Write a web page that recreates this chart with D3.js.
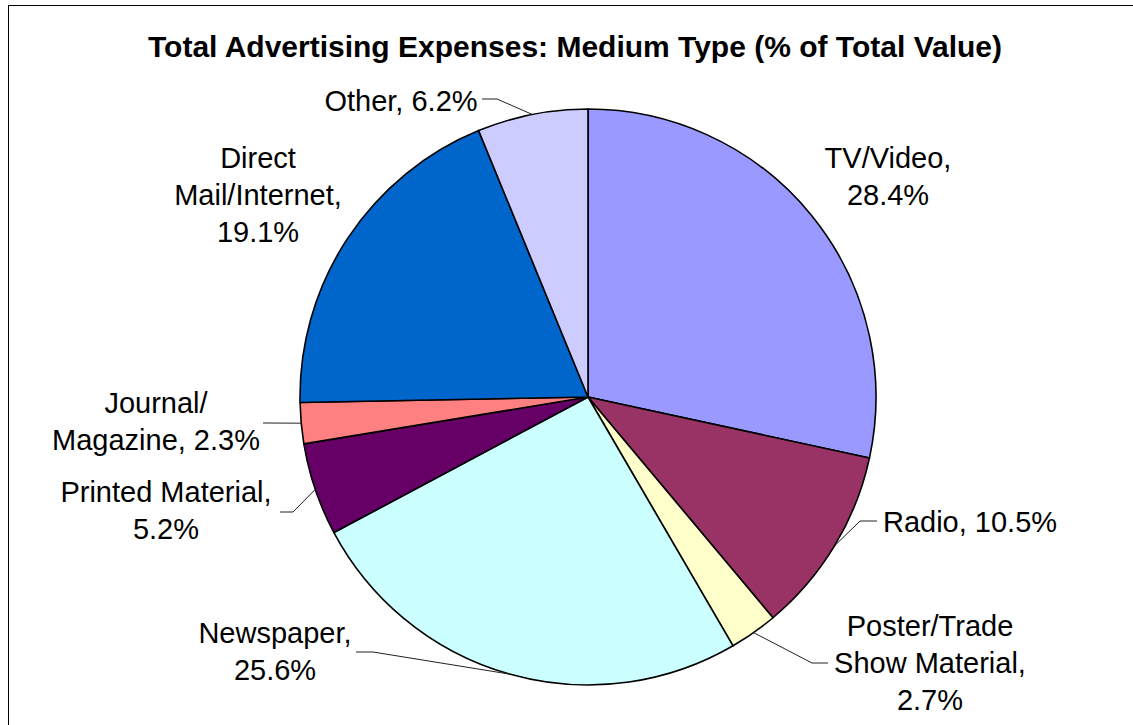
<!DOCTYPE html>
<html>
<head>
<meta charset="utf-8">
<script src="https://cdn.jsdelivr.net/npm/d3@7"></script>
<style>
  html, body { margin: 0; padding: 0; background: #fff; }
  svg { display: block; }
  text { font-family: "Liberation Sans", Arial, sans-serif; fill: #000; }
</style>
</head>
<body>
<svg id="chart" width="1133" height="725"></svg>
<script>
// Advertising spend by medium, percent of total value (clockwise from 12 o'clock)
const categories = [
  "TV/Video", "Radio", "Poster/Trade Show Material", "Newspaper",
  "Printed Material", "Journal/Magazine", "Direct Mail/Internet", "Other"
];
const values = [28.4, 10.5, 2.7, 25.6, 5.2, 2.3, 19.1, 6.2];
const colors = ["#9999FF", "#993366", "#FFFFCC", "#CCFFFF", "#660066", "#FF8080", "#0066CC", "#CCCCFF"];

// How each category name wraps in its data label (the value line is appended)
const nameLines = [
  ["TV/Video,"],
  ["Radio,"],
  ["Poster/Trade", "Show Material,"],
  ["Newspaper,"],
  ["Printed Material,"],
  ["Journal/", "Magazine,"],
  ["Direct", "Mail/Internet,"],
  ["Other,"]
];
// whether the value stays on the last name line
const valueInline = [false, true, false, false, false, true, false, true];

const title = "Total Advertising Expenses: Medium Type (% of Total Value)";

// ---- layout ----
const W = 1133, H = 725;
const cx = 588, cy = 397, R = 288;
const lineGap = 37;

// label placement: centre x, first baseline y, and leader line start/elbow (null = no leader)
const labelLayout = [
  { x: 888, y: 168, leader: null },
  { x: 970, y: 532, leader: [[877, 521], [860, 521]] },
  { x: 930, y: 636, leader: [[828, 663], [812, 663]] },
  { x: 275, y: 643, leader: [[356, 652], [373, 652]] },
  { x: 166, y: 502, leader: [[280, 512], [293, 512]] },
  { x: 156, y: 413, leader: [[263, 423], [268, 423]] },
  { x: 258, y: 168, leader: null },
  { x: 401, y: 111, leader: [[482, 99], [497, 99]] }
];

const svg = d3.select("#chart");

// outer chart-area frame (runs past the right and bottom edges)
svg.append("rect")
  .attr("x", 8.5).attr("y", 5.5)
  .attr("width", W + 20).attr("height", H + 20)
  .attr("fill", "#fff")
  .attr("stroke", "#000")
  .attr("stroke-width", 1);

svg.append("text")
  .attr("x", 575).attr("y", 57)
  .attr("text-anchor", "middle")
  .style("font-weight", "bold")
  .style("font-size", "30px")
  .text(title);

const pie = d3.pie().value(d => d).sort(null);
const arcs = pie(values);
const arc = d3.arc().innerRadius(0).outerRadius(R);

const g = svg.append("g").attr("transform", `translate(${cx},${cy})`);

g.selectAll("path.slice")
  .data(arcs)
  .join("path")
  .attr("class", "slice")
  .attr("d", arc)
  .attr("fill", (d, i) => colors[i])
  .attr("stroke", "#000")
  .attr("stroke-width", 1.6)
  .attr("stroke-linejoin", "round");

// leader lines end on the rim at each slice's mid angle
const rimPoint = d => {
  const a = (d.startAngle + d.endAngle) / 2;
  return [cx + R * Math.sin(a), cy - R * Math.cos(a)];
};

const line = d3.line();
svg.selectAll("path.leader")
  .data(arcs.filter((d, i) => labelLayout[i].leader))
  .join("path")
  .attr("class", "leader")
  .attr("d", d => line([...labelLayout[d.index].leader, rimPoint(d)]))
  .attr("fill", "none")
  .attr("stroke", "#222")
  .attr("stroke-width", 1);

// data labels
const fmt = d3.format(".1f");
arcs.forEach((d, i) => {
  const lines = nameLines[i].slice();
  const pct = fmt(values[i]) + "%";
  if (valueInline[i]) lines[lines.length - 1] += " " + pct;
  else lines.push(pct);
  const t = svg.append("text")
    .attr("text-anchor", "middle")
    .style("font-size", "29px");
  lines.forEach((s, k) => {
    t.append("tspan")
      .attr("x", labelLayout[i].x)
      .attr("y", labelLayout[i].y + k * lineGap)
      .text(s);
  });
});
</script>
</body>
</html>
